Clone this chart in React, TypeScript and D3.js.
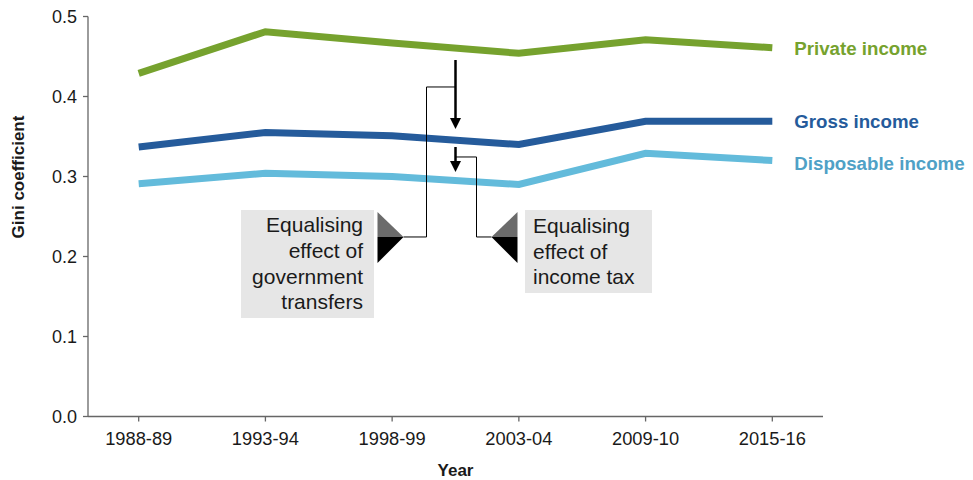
import React from "react";
import * as d3 from "d3";

const years = ["1988-89", "1993-94", "1998-99", "2003-04", "2009-10", "2015-16"];
const privateIncome = [0.429, 0.481, 0.467, 0.454, 0.471, 0.461];
const grossIncome = [0.337, 0.355, 0.351, 0.340, 0.369, 0.369];
const disposableIncome = [0.291, 0.304, 0.300, 0.290, 0.329, 0.320];
const yTicks = [0, 0.1, 0.2, 0.3, 0.4, 0.5];
const seriesNames = ["Private income", "Gross income", "Disposable income"];

const W = 973;
const H = 480;
const FONT = "'Liberation Sans', Arial, sans-serif";
const TEXT = "#1a1a1a";
const AXIS = "#666";

export default function App() {
  const x = d3.scalePoint<string>().domain(years).range([88, 823]).padding(0.4);
  const y = d3.scaleLinear().domain([0, 0.5]).range([416.5, 16.5]);
  const line = d3
    .line<number>()
    .x((_, i) => x(years[i]) as number)
    .y((d) => y(d));

  const series = [
    { name: seriesNames[0], values: privateIncome, color: "#76a22e", label: "#76a22e" },
    { name: seriesNames[1], values: grossIncome, color: "#255b9b", label: "#255b9b" },
    { name: seriesNames[2], values: disposableIncome, color: "#63bbdb", label: "#4fa1c6" },
  ];

  const [x0, x1] = x.range();
  const lastX = x(years[years.length - 1]) as number;
  const ax = ((x(years[2]) as number) + (x(years[3]) as number)) / 2;

  const a1Top = y(0.4456);
  const a1Tip = y(0.3594);
  const a1Elbow = y(0.4119);
  const a2Top = y(0.3369);
  const a2Tip = y(0.3056);
  const a2Elbow = y(0.3244);
  const mY = y(0.2244);
  const mTop = y(0.2556);
  const mBot = y(0.1919);

  const lx1 = ax - 29;
  const lx2 = ax + 21;
  const t1L = ax - 78, t1R = ax - 52;
  const t2L = ax + 36, t2R = ax + 62;

  const labelY = [48, 121, 163];

  return (
    <svg width={W} height={H} style={{ display: "block", position: "absolute", left: 0, top: 0 }} fontFamily={FONT}>
      <rect width={W} height={H} fill="#fff" />
      <line x1={x0} x2={x1} y1={y(0)} y2={y(0)} stroke={AXIS} strokeWidth={1.3} />
      <line x1={x0} x2={x0} y1={y(0)} y2={y(0.5)} stroke={AXIS} strokeWidth={1.3} />
      {yTicks.map((t) => (
        <g key={t}>
          <line x1={x0 - 5} x2={x0} y1={y(t)} y2={y(t)} stroke={AXIS} strokeWidth={1.3} />
          <text x={77} y={y(t)} dy="0.35em" textAnchor="end" fontSize={18} fill={TEXT}>
            {d3.format(".1f")(t)}
          </text>
        </g>
      ))}
      {years.map((yr) => (
        <g key={yr}>
          <line x1={x(yr)} x2={x(yr)} y1={y(0)} y2={y(0) + 5} stroke={AXIS} strokeWidth={1.3} />
          <text x={x(yr)} y={439} dy="0.35em" textAnchor="middle" fontSize={18.3} fill={TEXT}>
            {yr}
          </text>
        </g>
      ))}
      <text x={(x0 + x1) / 2} y={470} dy="0.35em" textAnchor="middle" fontSize={17} fontWeight="bold" fill={TEXT}>
        Year
      </text>
      <text
        transform={`translate(18,177) rotate(-90)`}
        dy="0.35em"
        textAnchor="middle"
        fontSize={17}
        fontWeight="bold"
        fill={TEXT}
      >
        Gini coefficient
      </text>

      {series.map((s, i) => (
        <g key={s.name}>
          <path d={line(s.values) || ""} fill="none" stroke={s.color} strokeWidth={7} strokeLinejoin="miter" />
          <text x={lastX + 22} y={labelY[i]} dy="0.35em" fontSize={18.7} fontWeight="bold" fill={s.label}>
            {s.name}
          </text>
        </g>
      ))}

      {/* annotation 1: government transfers */}
      <line x1={ax} x2={ax} y1={a1Top} y2={a1Tip - 10} stroke="#000" strokeWidth={2.5} />
      <path d={`M${ax - 5.5},${a1Tip - 11} L${ax + 5.5},${a1Tip - 11} L${ax},${a1Tip} Z`} fill="#000" />
      <path d={`M${ax},${a1Elbow} H${lx1} V${mY} H${t1R}`} fill="none" stroke="#000" strokeWidth={1} />
      <path d={`M${t1L},${mTop} L${t1L},${mY} L${t1R},${mY} Z`} fill="#6b6b6b" />
      <path d={`M${t1L},${mY} L${t1R},${mY} L${t1L},${mBot} Z`} fill="#000" />
      <rect x={241} y={210} width={133} height={108} fill="#e6e6e6" />
      {["Equalising", "effect of", "government", "transfers"].map((t, i) => (
        <text key={t} x={363} y={225 + i * 25.7} dy="0.35em" textAnchor="end" fontSize={21} fill={TEXT}>
          {t}
        </text>
      ))}

      {/* annotation 2: income tax */}
      <line x1={ax} x2={ax} y1={a2Top} y2={a2Tip - 10} stroke="#000" strokeWidth={2.5} />
      <path d={`M${ax - 5.5},${a2Tip - 11} L${ax + 5.5},${a2Tip - 11} L${ax},${a2Tip} Z`} fill="#000" />
      <path d={`M${ax},${a2Elbow} H${lx2} V${mY} H${t2L}`} fill="none" stroke="#000" strokeWidth={1} />
      <path d={`M${t2R},${mTop} L${t2R},${mY} L${t2L},${mY} Z`} fill="#6b6b6b" />
      <path d={`M${t2R},${mY} L${t2L},${mY} L${t2R},${mBot} Z`} fill="#000" />
      <rect x={525} y={210} width={127} height={83} fill="#e6e6e6" />
      {["Equalising", "effect of", "income tax"].map((t, i) => (
        <text key={t} x={533} y={226 + i * 25.5} dy="0.35em" textAnchor="start" fontSize={21} fill={TEXT}>
          {t}
        </text>
      ))}
    </svg>
  );
}
